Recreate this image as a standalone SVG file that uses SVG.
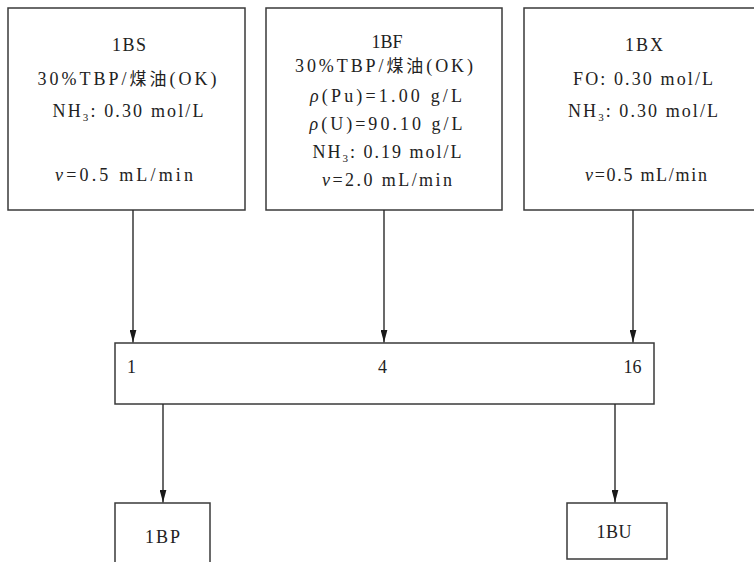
<svg xmlns="http://www.w3.org/2000/svg" width="754" height="562" viewBox="0 0 754 562">
<style>
.box{fill:#fff;stroke:#3a3a3a;stroke-width:1.5}
.t{font-family:"Liberation Serif","Noto Sans CJK SC",serif;font-size:18px;fill:#222;text-anchor:middle}
.c{font-family:"Noto Sans CJK SC",sans-serif;font-size:17px}
.i{font-style:italic}
.s{font-size:11px}
.con{stroke:#2a2a2a;stroke-width:1.4;fill:none}
</style>
<defs>
<marker id="a" viewBox="0 0 13 7" markerWidth="13" markerHeight="7" refX="13" refY="3.5" orient="auto" markerUnits="userSpaceOnUse">
<path d="M0,0 L13,3.5 L0,7 Z" fill="#1a1a1a"/>
</marker>
</defs>
<g id="n1BS">
<rect class="box" x="8" y="8" width="237" height="202"/>
<text class="t" x="129" y="51" textLength="34" lengthAdjust="spacing">1BS</text>
<text class="t" x="127" y="85" textLength="179" lengthAdjust="spacing">30%TBP/<tspan class="c">煤油</tspan>(OK)</text>
<text class="t" x="128" y="117" textLength="151" lengthAdjust="spacing">NH<tspan class="s" dy="4">3</tspan><tspan dy="-4">: 0.30 mol/L</tspan></text>
<text class="t" x="124" y="181" textLength="138" lengthAdjust="spacing"><tspan class="i">v</tspan>=0.5 mL/min</text>
</g>
<g id="n1BF">
<rect class="box" x="266" y="8" width="236" height="202"/>
<text class="t" x="387" y="48" textLength="31" lengthAdjust="spacing">1BF</text>
<text class="t" x="384" y="72" textLength="178" lengthAdjust="spacing">30%TBP/<tspan class="c">煤油</tspan>(OK)</text>
<text class="t" x="386" y="102" textLength="152" lengthAdjust="spacing"><tspan class="i">ρ</tspan>(Pu)=1.00 g/L</text>
<text class="t" x="386" y="130" textLength="153" lengthAdjust="spacing"><tspan class="i">ρ</tspan>(U)=90.10 g/L</text>
<text class="t" x="387" y="158" textLength="149" lengthAdjust="spacing">NH<tspan class="s" dy="4">3</tspan><tspan dy="-4">: 0.19 mol/L</tspan></text>
<text class="t" x="387" y="186" textLength="130" lengthAdjust="spacing"><tspan class="i">v</tspan>=2.0 mL/min</text>
</g>
<g id="n1BX">
<rect class="box" x="524" y="8" width="240" height="202"/>
<text class="t" x="644" y="51" textLength="38" lengthAdjust="spacing">1BX</text>
<text class="t" x="643" y="85" textLength="140" lengthAdjust="spacing">FO: 0.30 mol/L</text>
<text class="t" x="643" y="117" textLength="150" lengthAdjust="spacing">NH<tspan class="s" dy="4">3</tspan><tspan dy="-4">: 0.30 mol/L</tspan></text>
<text class="t" x="646" y="181" textLength="122" lengthAdjust="spacing"><tspan class="i">v</tspan>=0.5 mL/min</text>
</g>
<g id="ncol">
<rect class="box" x="115" y="343" width="539" height="61"/>
<text class="t" x="131.5" y="373">1</text>
<text class="t" x="382.5" y="373">4</text>
<text class="t" x="632.5" y="373">16</text>
</g>
<g id="n1BP">
<rect class="box" x="115" y="503" width="95" height="70"/>
<text class="t" x="162.5" y="543" textLength="35" lengthAdjust="spacing">1BP</text>
</g>
<g id="n1BU">
<rect class="box" x="567" y="503" width="100" height="56"/>
<text class="t" x="614" y="538" textLength="35" lengthAdjust="spacing">1BU</text>
</g>
<g id="connectors">
<line class="con" x1="133" y1="210" x2="133" y2="342.5" marker-end="url(#a)"/>
<line class="con" x1="384" y1="210" x2="384" y2="342.5" marker-end="url(#a)"/>
<line class="con" x1="633" y1="210" x2="633" y2="342.5" marker-end="url(#a)"/>
<line class="con" x1="163" y1="404" x2="163" y2="502.5" marker-end="url(#a)"/>
<line class="con" x1="615" y1="404" x2="615" y2="502.5" marker-end="url(#a)"/>
</g>
</svg>
